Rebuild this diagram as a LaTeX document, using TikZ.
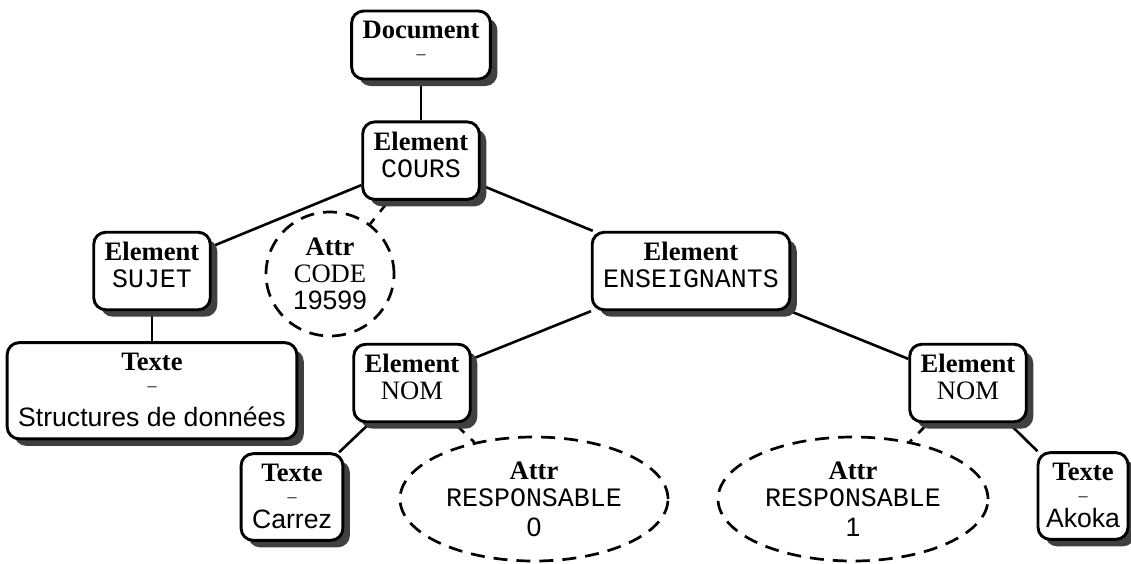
\documentclass[tikz,border=0pt]{standalone}
\usepackage{fontspec}
\setmainfont{Liberation Serif}
\setsansfont{Liberation Sans}
\setmonofont{Liberation Mono}
\usetikzlibrary{positioning,shapes.geometric,shadows,backgrounds}

\newcommand{\nodash}{{\fontsize{9}{9}\selectfont –}}
\newcommand{\botpad}[1]{\rule[-#1]{0pt}{#1}}

\begin{document}
\begin{tikzpicture}[x=0.5pt, y=-0.5pt, font=\fontsize{13.3}{13.5}\selectfont]
    % Styles
    \tikzstyle{box} = [rectangle, draw, line width=1.45pt, fill=white, rounded corners=6pt, align=center, inner xsep=5.5pt, inner ysep=5pt, drop shadow={shadow xshift=3.5pt, shadow yshift=-3.5pt, fill=black!75, opacity=1}]
    \tikzstyle{attr} = [ellipse, draw, line width=1.35pt, dash pattern=on 7pt off 4.5pt, align=center, inner sep=0pt, minimum height=62pt]
    \tikzstyle{link} = [line width=1.3pt]
    \tikzstyle{attrlink} = [link, dash pattern=on 7pt off 4.5pt]

    \useasboundingbox (0,0) rectangle (1131,563);

    % Nodes
    \node [box] (doc) at (421,45) {\textbf{Document}\\[-3.2pt]\nodash\botpad{5pt}};
    \node [box, below=20pt of doc] (cours) {\textbf{Element}\\\texttt{COURS}\botpad{6pt}};

    \node [box] (sujet) at (152,271) {\textbf{Element}\\\texttt{SUJET}\botpad{6pt}};
    \node [box, below=15pt of sujet] (sdd) {\textbf{Texte}\\[-3pt]\nodash\\[4.4pt]\textsf{Structures de données}\botpad{1pt}};
    \node [attr, minimum width=64pt] (code) at (330,274) {\textbf{Attr}\\CODE\\\textsf{19599}};

    \node [box] (ens) at (691,271) {\textbf{Element}\\\texttt{ENSEIGNANTS}\botpad{6pt}};

    \node [box] (nom1) at (412,383) {\textbf{Element}\\NOM\botpad{6pt}};
    \node [box] (carrez) at (292,497) {\textbf{Texte}\\[-3pt]\nodash\\[-0.4pt]\textsf{Carrez}\botpad{1pt}};
    \node [attr, minimum width=134pt] (resp0) at (534,499) {\textbf{Attr}\\\texttt{RESPONSABLE}\\[1.5pt]\textsf{0}};

    \node [box] (nom2) at (968,383) {\textbf{Element}\\NOM\botpad{6pt}};
    \node [attr, minimum width=135pt] (resp1) at (853,499) {\textbf{Attr}\\\texttt{RESPONSABLE}\\[1.5pt]\textsf{1}};
    \node [box, inner xsep=4pt] (akoka) at (1083,496) {\textbf{Texte}\\[-3pt]\nodash\\[-0.4pt]\textsf{Akoka}\botpad{1pt}};

    % Connections
    \begin{scope}[on background layer]
        \draw[link] (doc) -- (cours);
        \draw[link] (cours) -- (sujet);
        \draw[attrlink] (cours) -- (code);
        \draw[link] (cours) -- (ens);
        \draw[link] (sujet) -- (sdd);
        \draw[link] (ens) -- (nom1);
        \draw[link] (ens) -- (nom2);
        \draw[link] (nom1) -- (carrez);
        \draw[attrlink] (nom1) -- (resp0);
        \draw[attrlink] (nom2) -- (resp1);
        \draw[link] (nom2) -- (akoka);
    \end{scope}
\end{tikzpicture}
\end{document}
